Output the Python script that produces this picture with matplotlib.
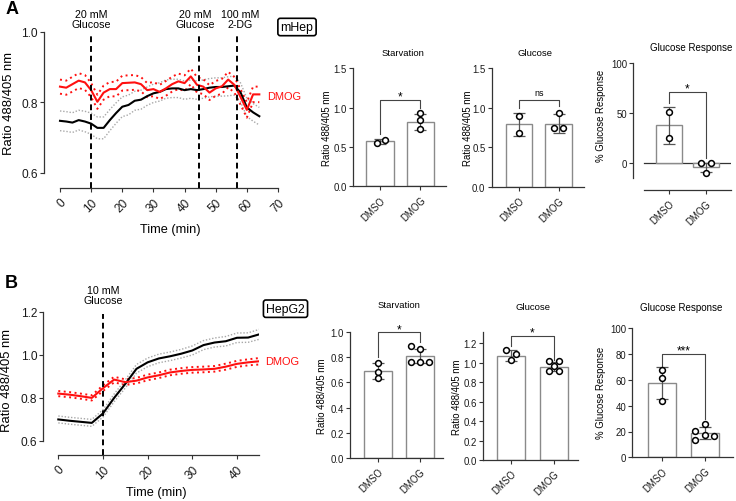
import numpy as np
import matplotlib
matplotlib.use("Agg")
import matplotlib.pyplot as plt
from matplotlib.ticker import FormatStrFormatter

plt.rcParams['font.family'] = ['Liberation Sans', 'DejaVu Sans']

# ---- data: time courses ----
time_a = [0, 2, 4, 6, 8, 10, 12, 14, 16, 18, 20, 22, 24, 26, 28, 30, 32,
          34, 36, 38, 40, 42, 44, 46, 48, 50, 52, 54, 56, 58, 60, 62, 64]
dmso_a = [0.748, 0.746, 0.743, 0.750, 0.746, 0.740, 0.728, 0.728, 0.750, 0.770,
          0.788, 0.793, 0.805, 0.808, 0.818, 0.826, 0.830, 0.838, 0.840, 0.840,
          0.835, 0.838, 0.835, 0.838, 0.842, 0.844, 0.844, 0.846, 0.848, 0.828,
          0.786, 0.772, 0.761]
dmso_a_sem = [0.028, 0.028, 0.028, 0.028, 0.029, 0.030, 0.031, 0.031, 0.030, 0.029,
              0.028, 0.028, 0.027, 0.027, 0.026, 0.026, 0.026, 0.026, 0.026, 0.026,
              0.026, 0.026, 0.026, 0.026, 0.026, 0.026, 0.026, 0.027, 0.027, 0.027,
              0.026, 0.025, 0.025]
dmog_a = [0.845, 0.842, 0.852, 0.862, 0.857, 0.835, 0.802, 0.828, 0.838, 0.838,
          0.855, 0.856, 0.857, 0.852, 0.835, 0.838, 0.830, 0.840, 0.852, 0.860,
          0.855, 0.874, 0.850, 0.845, 0.828, 0.840, 0.846, 0.865, 0.850, 0.815,
          0.779, 0.823, 0.823]
dmog_a_sem = [0.020, 0.020, 0.021, 0.021, 0.021, 0.020, 0.020, 0.020, 0.020, 0.021,
              0.021, 0.021, 0.021, 0.020, 0.020, 0.020, 0.020, 0.021, 0.021, 0.022,
              0.022, 0.022, 0.022, 0.021, 0.021, 0.021, 0.021, 0.022, 0.022, 0.022,
              0.022, 0.022, 0.022]

time_b = [0, 2.5, 5, 7.5, 10, 12.5, 15, 17.5, 20, 22.5, 25, 27.5, 30, 32.5,
          35, 37.5, 40, 42.5, 45]
dmso_b = [0.700, 0.694, 0.689, 0.684, 0.728, 0.800, 0.865, 0.935, 0.965, 0.983,
          0.993, 1.005, 1.020, 1.045, 1.057, 1.063, 1.079, 1.080, 1.095]
dmso_b_sem = [0.016, 0.016, 0.016, 0.016, 0.017, 0.018, 0.019, 0.020, 0.020, 0.020,
              0.020, 0.020, 0.021, 0.021, 0.021, 0.022, 0.022, 0.022, 0.023]
dmog_b = [0.820, 0.815, 0.808, 0.800, 0.845, 0.885, 0.873, 0.880, 0.895, 0.905,
          0.918, 0.925, 0.930, 0.932, 0.935, 0.945, 0.958, 0.965, 0.970]
dmog_b_sem = [0.012, 0.012, 0.012, 0.012, 0.013, 0.013, 0.013, 0.013, 0.013, 0.013,
              0.013, 0.013, 0.013, 0.013, 0.013, 0.014, 0.014, 0.014, 0.015]

# ---- data: bar panels ----
groups = ['DMSO', 'DMOG']

a_starv_mean = [0.57, 0.82]
a_starv_sd = [0.03, 0.105]
a_starv_dmso = [0.546, 0.588]
a_starv_dmog = [0.935, 0.846, 0.728]

a_gluc_mean = [0.79, 0.80]
a_gluc_sd = [0.145, 0.115]
a_gluc_dmso = [0.89, 0.68]
a_gluc_dmog = [0.94, 0.74, 0.74]

a_resp_mean = [38, -4]
a_resp_sd = [18.5, 4.5]
a_resp_dmso = [51.6, 25.3]
a_resp_dmog = [0.3, 0.0, -9.7]

b_starv_mean = [0.69, 0.81]
b_starv_sd = [0.062, 0.055]
b_starv_dmso = [0.756, 0.681, 0.636]
b_starv_dmog = [0.889, 0.868, 0.766, 0.766, 0.766]

b_gluc_mean = [1.07, 0.957]
b_gluc_sd = [0.055, 0.048]
b_gluc_dmso = [1.128, 1.087, 1.022]
b_gluc_dmog = [1.018, 1.018, 0.967, 0.916, 0.916]

b_resp_mean = [57.4, 18.6]
b_resp_sd = [12.5, 4.6]
b_resp_dmso = [67.7, 61.2, 43.4]
b_resp_dmog = [25.8, 20.1, 17.1, 16.4, 13.6]

RED = '#ff1010'
AXC = '#333333'
W, H = 736, 502
fig = plt.figure(figsize=(W / 100, H / 100), dpi=100)


def add_ax(l, t, r, b):
    return fig.add_axes([l / W, 1 - b / H, (r - l) / W, (b - t) / H])


def ftext(x, y, s, **kw):
    fig.text(x / W, 1 - y / H, s, **kw)


def style(ax, fs):
    for s in ('top', 'right'):
        ax.spines[s].set_visible(False)
    for s in ('left', 'bottom'):
        ax.spines[s].set_color(AXC)
        ax.spines[s].set_linewidth(0.9)
    ax.tick_params(colors=AXC, labelcolor='#1a1a1a', labelsize=fs,
                   length=3, width=0.8, pad=1.5)


def trace(ax, t, c, c_sem, d, d_sem):
    c, c_sem, d, d_sem = map(np.asarray, (c, c_sem, d, d_sem))
    for sgn in (1, -1):
        ax.plot(t, c + sgn * c_sem, color='#a8a8a8', ls=(0, (1, 1.3)), lw=1.0)
        ax.plot(t, d + sgn * d_sem, color=RED, ls=(0, (1, 1.8)), lw=1.4)
    ax.plot(t, c, color='black', lw=1.5)
    ax.plot(t, d, color=RED, lw=1.5)


def bar_panel(ax, mean, sd, pts, jit, width, bracket, fs=6.9):
    x = [0, 1]
    ax.bar(x, mean, width=width, color='white', edgecolor='#8a8a8a', lw=1.0, zorder=1)
    ax.errorbar(x, mean, yerr=sd, fmt='none', ecolor='#555555', elinewidth=0.9,
                capsize=4.3, capthick=0.9, zorder=2)
    for i, (p, j) in enumerate(zip(pts, jit)):
        ax.plot(np.asarray(j) + i, p, 'o', mfc='white', mec='black', mew=1.1,
                ms=4.2, zorder=3, clip_on=False)
    top, lb, rb, lab, off = bracket
    ax.plot([0, 0, 1, 1], [lb, top, top, rb], color='#444444', lw=0.8, clip_on=False)
    ax.text(0.5, top + off, lab, ha='center', va='baseline',
            fontsize=6.4 if lab == 'ns' else 8.5, clip_on=False)
    ax.set_xticks(x)
    ax.set_xticklabels(groups, rotation=45, ha='right', rotation_mode='anchor')
    style(ax, fs)
    ax.tick_params(axis='x', pad=3)


# ================= Panel A: time course =================
ax = add_ax(44, 33, 278, 189)
trace(ax, time_a, dmso_a, dmso_a_sem, dmog_a, dmog_a_sem)
for xv in (10, 44.7, 56.9):
    ax.vlines(xv, 0.5574, 0.988, colors='black', linestyles=(0, (3, 2)), lw=1.4)
ax.set_xlim(-5.14, 70)
ax.set_ylim(0.5574, 1.0)
ax.spines['left'].set_bounds(0.6, 1.0)
ax.spines['bottom'].set_bounds(0, 70)
ax.set_yticks([0.6, 0.8, 1.0])
ax.yaxis.set_major_formatter(FormatStrFormatter('%.1f'))
ax.set_xticks(range(0, 71, 10))
style(ax, 8.6)
ax.set_xticklabels([str(v) for v in range(0, 71, 10)], rotation=45, ha='right',
                   rotation_mode='anchor')
ax.tick_params(axis='x', pad=3)
ax.set_ylabel('Ratio 488/405 nm', fontsize=9.4)
ax.yaxis.set_label_coords(-0.124, 0.548)
ax.set_xlabel('Time (min)', fontsize=9.2)
ax.xaxis.set_label_coords(0.538, -0.224)
ax.text(10, 1.008, '20 mM\nGlucose', ha='center', va='bottom', fontsize=7.7,
        linespacing=1.0)
ax.text(43.4, 1.008, '20 mM\nGlucose', ha='center', va='bottom', fontsize=7.7,
        linespacing=1.0)
ax.text(57.9, 1.008, '100 mM\n2-DG', ha='center', va='bottom', fontsize=7.7,
        linespacing=1.0)
ax.text(66.6, 0.818, 'DMOG', color=RED, ha='left', va='center', fontsize=7.9,
        clip_on=False)
ftext(297, 28, 'mHep', ha='center', va='center', fontsize=8.8,
      bbox=dict(boxstyle='round,pad=0.22,rounding_size=0.2', fc='white', ec='black', lw=1.2))
ftext(12, 10, 'A', ha='center', va='center', fontsize=13, fontweight='bold')

# ================= Panel A: bars =================
ax = add_ax(353, 69.3, 446, 187.3)
bar_panel(ax, a_starv_mean, a_starv_sd, [a_starv_dmso, a_starv_dmog],
          [[-0.08, 0.12], [0, 0, 0]], 0.67, (1.10, 0.66, 1.0, '*', 0.01))
ax.set_xlim(-0.667, 1.63)
ax.set_ylim(0, 1.5)
ax.set_yticks([0, 0.5, 1.0, 1.5])
ax.yaxis.set_major_formatter(FormatStrFormatter('%.1f'))
ax.set_ylabel('Ratio 488/405 nm', fontsize=6.9)
ax.yaxis.set_label_coords(-0.229, 0.5)
ftext(403, 54, 'Starvation', ha='center', va='center', fontsize=6.8)

ax = add_ax(491.7, 69.3, 583.7, 187.7)
bar_panel(ax, a_gluc_mean, a_gluc_sd, [a_gluc_dmso, a_gluc_dmog],
          [[0, 0], [0, -0.12, 0.12]], 0.67, (1.10, 1.0, 1.02, 'ns', 0.06))
ax.set_xlim(-0.69, 1.63)
ax.set_ylim(0, 1.5)
ax.set_yticks([0, 0.5, 1.0, 1.5])
ax.yaxis.set_major_formatter(FormatStrFormatter('%.1f'))
ax.set_ylabel('Ratio 488/405 nm', fontsize=6.9)
ax.yaxis.set_label_coords(-0.206, 0.5)
ftext(535, 54, 'Glucose', ha='center', va='center', fontsize=6.8)

ax = add_ax(633.3, 64.3, 730.7, 190.7)
bar_panel(ax, a_resp_mean, a_resp_sd, [a_resp_dmso, a_resp_dmog],
          [[0, 0], [-0.13, 0.13, 0]], 0.68, (71, 60, 5, '*', 1))
ax.set_xlim(-0.965, 1.667)
ax.set_ylim(-26.4, 100)
ax.spines['left'].set_bounds(-15, 100)
ax.spines['bottom'].set_bounds(-0.676, 1.667)
ax.plot([-0.676, 1.667], [0, 0], color=AXC, lw=0.9, zorder=0.5)
ax.set_yticks([0, 50, 100])
ax.set_ylabel('% Glucose Response', fontsize=6.9)
ax.yaxis.set_label_coords(-0.28, 0.593)
ftext(690.7, 48.3, 'Glucose Response', ha='center', va='center', fontsize=7.0)

# ================= Panel B: time course =================
ax = add_ax(43.3, 312.7, 259.3, 456)
trace(ax, time_b, dmso_b, dmso_b_sem, dmog_b, dmog_b_sem)
ax.vlines(10, 0.535, 1.189, colors='black', linestyles=(0, (3, 2)), lw=1.4)
ax.set_xlim(-3.36, 45)
ax.set_ylim(0.535, 1.2)
ax.spines['left'].set_bounds(0.6, 1.2)
ax.spines['bottom'].set_bounds(0, 45)
ax.set_yticks([0.6, 0.8, 1.0, 1.2])
ax.yaxis.set_major_formatter(FormatStrFormatter('%.1f'))
ax.set_xticks(range(0, 41, 10))
style(ax, 8.6)
ax.set_xticklabels([str(v) for v in range(0, 41, 10)], rotation=45, ha='right',
                   rotation_mode='anchor')
ax.tick_params(axis='x', pad=3)
ax.set_ylabel('Ratio 488/405 nm', fontsize=9.4)
ax.yaxis.set_label_coords(-0.139, 0.525)
ax.set_xlabel('Time (min)', fontsize=9.2)
ax.xaxis.set_label_coords(0.525, -0.218)
ax.text(10, 1.231, '10 mM\nGlucose', ha='center', va='bottom', fontsize=7.7,
        linespacing=1.0, clip_on=False)
ax.text(46.2, 0.97, 'DMOG', color=RED, ha='left', va='center', fontsize=7.9,
        clip_on=False)
ftext(285.5, 309.7, 'HepG2', ha='center', va='center', fontsize=8.8,
      bbox=dict(boxstyle='round,pad=0.22,rounding_size=0.2', fc='white', ec='black', lw=1.2))
ftext(11, 283, 'B', ha='center', va='center', fontsize=13, fontweight='bold')

# ================= Panel B: bars =================
ax = add_ax(350, 333.3, 442.7, 458.7)
bar_panel(ax, b_starv_mean, b_starv_sd, [b_starv_dmso, b_starv_dmog],
          [[0, 0, 0], [-0.22, 0, -0.22, 0, 0.21]], 0.65, (1.0, 0.80, 0.92, '*', 0.0))
ax.set_xlim(-0.667, 1.54)
ax.set_ylim(0, 1.0)
ax.set_yticks([0, 0.2, 0.4, 0.6, 0.8, 1.0])
ax.yaxis.set_major_formatter(FormatStrFormatter('%.1f'))
ax.set_ylabel('Ratio 488/405 nm', fontsize=6.9)
ax.yaxis.set_label_coords(-0.251, 0.5)
ftext(399.3, 306, 'Starvation', ha='center', va='center', fontsize=6.8)

ax = add_ax(483.3, 333.3, 578, 461)
bar_panel(ax, b_gluc_mean, b_gluc_sd, [b_gluc_dmso, b_gluc_dmog],
          [[-0.12, 0.1, 0], [-0.12, 0.12, 0, -0.12, 0.12]], 0.66,
          (1.27, 1.17, 1.03, '*', 0.01))
ax.set_xlim(-0.66, 1.57)
ax.set_ylim(0, 1.31)
ax.set_yticks([0, 0.2, 0.4, 0.6, 0.8, 1.0, 1.2])
ax.yaxis.set_major_formatter(FormatStrFormatter('%.1f'))
ax.set_ylabel('Ratio 488/405 nm', fontsize=6.9)
ax.yaxis.set_label_coords(-0.228, 0.5)
ftext(533.3, 307.3, 'Glucose', ha='center', va='center', fontsize=6.8)

ax = add_ax(632.3, 329.3, 733.3, 458.3)
bar_panel(ax, b_resp_mean, b_resp_sd, [b_resp_dmso, b_resp_dmog],
          [[0, 0, 0], [0, -0.23, 0, 0.21, -0.23]], 0.65, (80, 70, 30, '***', 0.5))
ax.set_xlim(-0.68, 1.65)
ax.set_ylim(0, 100)
ax.set_yticks([0, 20, 40, 60, 80, 100])
ax.set_ylabel('% Glucose Response', fontsize=6.9)
ax.yaxis.set_label_coords(-0.26, 0.51)
ftext(680.7, 307.7, 'Glucose Response', ha='center', va='center', fontsize=7.0)

fig.savefig('out.png', dpi=100)
